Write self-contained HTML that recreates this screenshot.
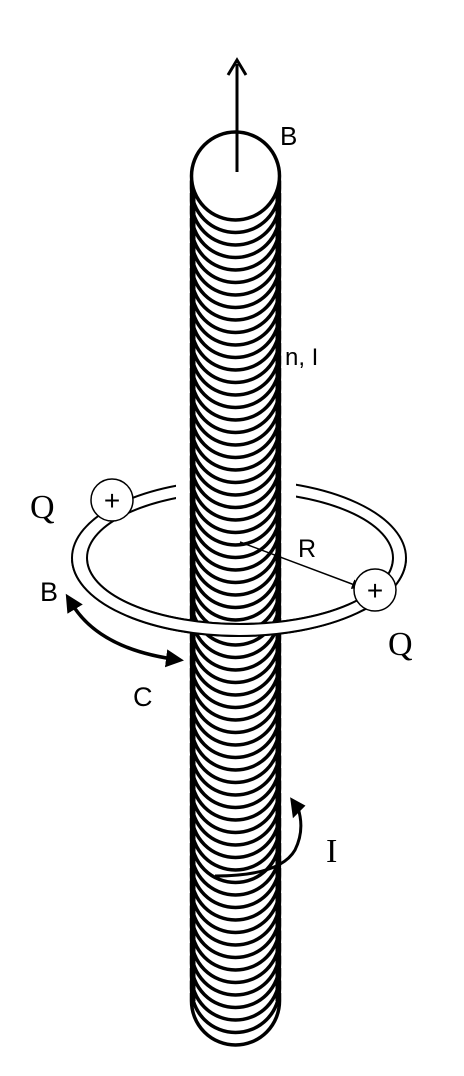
<!DOCTYPE html>
<html><head><meta charset="utf-8"><style>
html,body{margin:0;padding:0;background:#fff;}
svg{display:block;}
.sans{font-family:"Liberation Sans",sans-serif;}
.serif{font-family:"Liberation Serif",serif;}
</style></head><body>
<svg width="464" height="1076" viewBox="0 0 464 1076">
<defs>
<clipPath id="lowerHalf"><rect x="0" y="560" width="464" height="200"/></clipPath>
<marker id="ah" markerWidth="10" markerHeight="10" refX="8" refY="5" orient="auto" markerUnits="userSpaceOnUse"><path d="M0,0 L10,5 L0,10 z" fill="#000"/></marker>
<marker id="ahb" markerWidth="20" markerHeight="20" refX="14" refY="10" orient="auto" markerUnits="userSpaceOnUse"><path d="M0,1 L18,10 L0,19 z" fill="#000"/></marker>
<marker id="ahbs" markerWidth="20" markerHeight="20" refX="6" refY="10" orient="auto-start-reverse" markerUnits="userSpaceOnUse"><path d="M0,1 L18,10 L0,19 z" fill="#000"/></marker>
</defs>
<g>
<path d="M72,558 a167,78 0 1,0 334,0 a167,78 0 1,0 -334,0 Z M87,558 a153,66 0 1,0 306,0 a153,66 0 1,0 -306,0 Z" fill="#fff" fill-rule="evenodd" stroke="#000" stroke-width="2"/>
<rect x="176" y="470" width="120" height="40" fill="#fff"/>
</g>
<g id="sol"></g>
<line x1="193" y1="176" x2="193" y2="1001" stroke="#000" stroke-width="5"/>
<line x1="278" y1="176" x2="278" y2="1001" stroke="#000" stroke-width="5"/>
<circle cx="235.5" cy="176" r="44" fill="#fff" stroke="#000" stroke-width="3.5"/>
<g clip-path="url(#lowerHalf)">
<path d="M72,558 a167,78 0 1,0 334,0 a167,78 0 1,0 -334,0 Z M87,558 a153,66 0 1,0 306,0 a153,66 0 1,0 -306,0 Z" fill="#fff" fill-rule="evenodd" stroke="#000" stroke-width="2"/>
</g>
<line x1="237" y1="172" x2="237" y2="64" stroke="#000" stroke-width="3"/>
<path d="M228,75 L237,60 L246,75" fill="none" stroke="#000" stroke-width="3"/>
<text x="280" y="145" class="sans" font-size="26">B</text>
<text x="285" y="365" class="sans" font-size="24">n, I</text>
<line x1="240" y1="542" x2="360" y2="587" stroke="#000" stroke-width="1.5" marker-end="url(#ah)"/>
<text x="298" y="557" class="sans" font-size="25">R</text>
<g>
<circle cx="112" cy="500" r="21" fill="#fff" stroke="#000" stroke-width="1.5"/>
<text x="112" y="510" text-anchor="middle" class="sans" font-size="28">+</text>
</g>
<g>
<circle cx="375" cy="590" r="21" fill="#fff" stroke="#000" stroke-width="1.5"/>
<text x="375" y="600" text-anchor="middle" class="sans" font-size="28">+</text>
</g>
<text x="30" y="518" class="serif" font-size="34">Q</text>
<text x="388" y="655" class="serif" font-size="34">Q</text>
<text x="40" y="601" class="sans" font-size="27">B</text>
<text x="133" y="706" class="sans" font-size="27">C</text>
<path d="M72,604 Q100,650 180,660" fill="none" stroke="#000" stroke-width="3.5" marker-start="url(#ahbs)" marker-end="url(#ahb)"/>
<path d="M215,876 Q280,876 295,850 Q305,830 298,808" fill="none" stroke="#000" stroke-width="3"/>
<path d="M292,800 L294,815 L303,806 Z" fill="#000" stroke="#000" stroke-width="3"/>
<text x="326" y="862" class="serif" font-size="34">I</text>
<script>
const turnCount = [66];
const g = document.getElementById('sol');
const top0 = 176, bottom0 = 1001, cx = 235.5, r = 44;
for (let i = 0; i < turnCount[0]; i++) {
  const cy = top0 + (bottom0 - top0) * (i + 1) / turnCount[0];
  const p = document.createElementNS('http://www.w3.org/2000/svg', 'path');
  p.setAttribute('d', `M${cx - r},${cy - 8} L${cx - r},${cy} A${r},${r} 0 0,0 ${cx + r},${cy} L${cx + r},${cy - 8}`);
  p.setAttribute('fill', 'none');
  p.setAttribute('stroke', '#000');
  p.setAttribute('stroke-width', '3.5');
  
  
  g.appendChild(p);
}
</script>
</svg>
</body></html>
